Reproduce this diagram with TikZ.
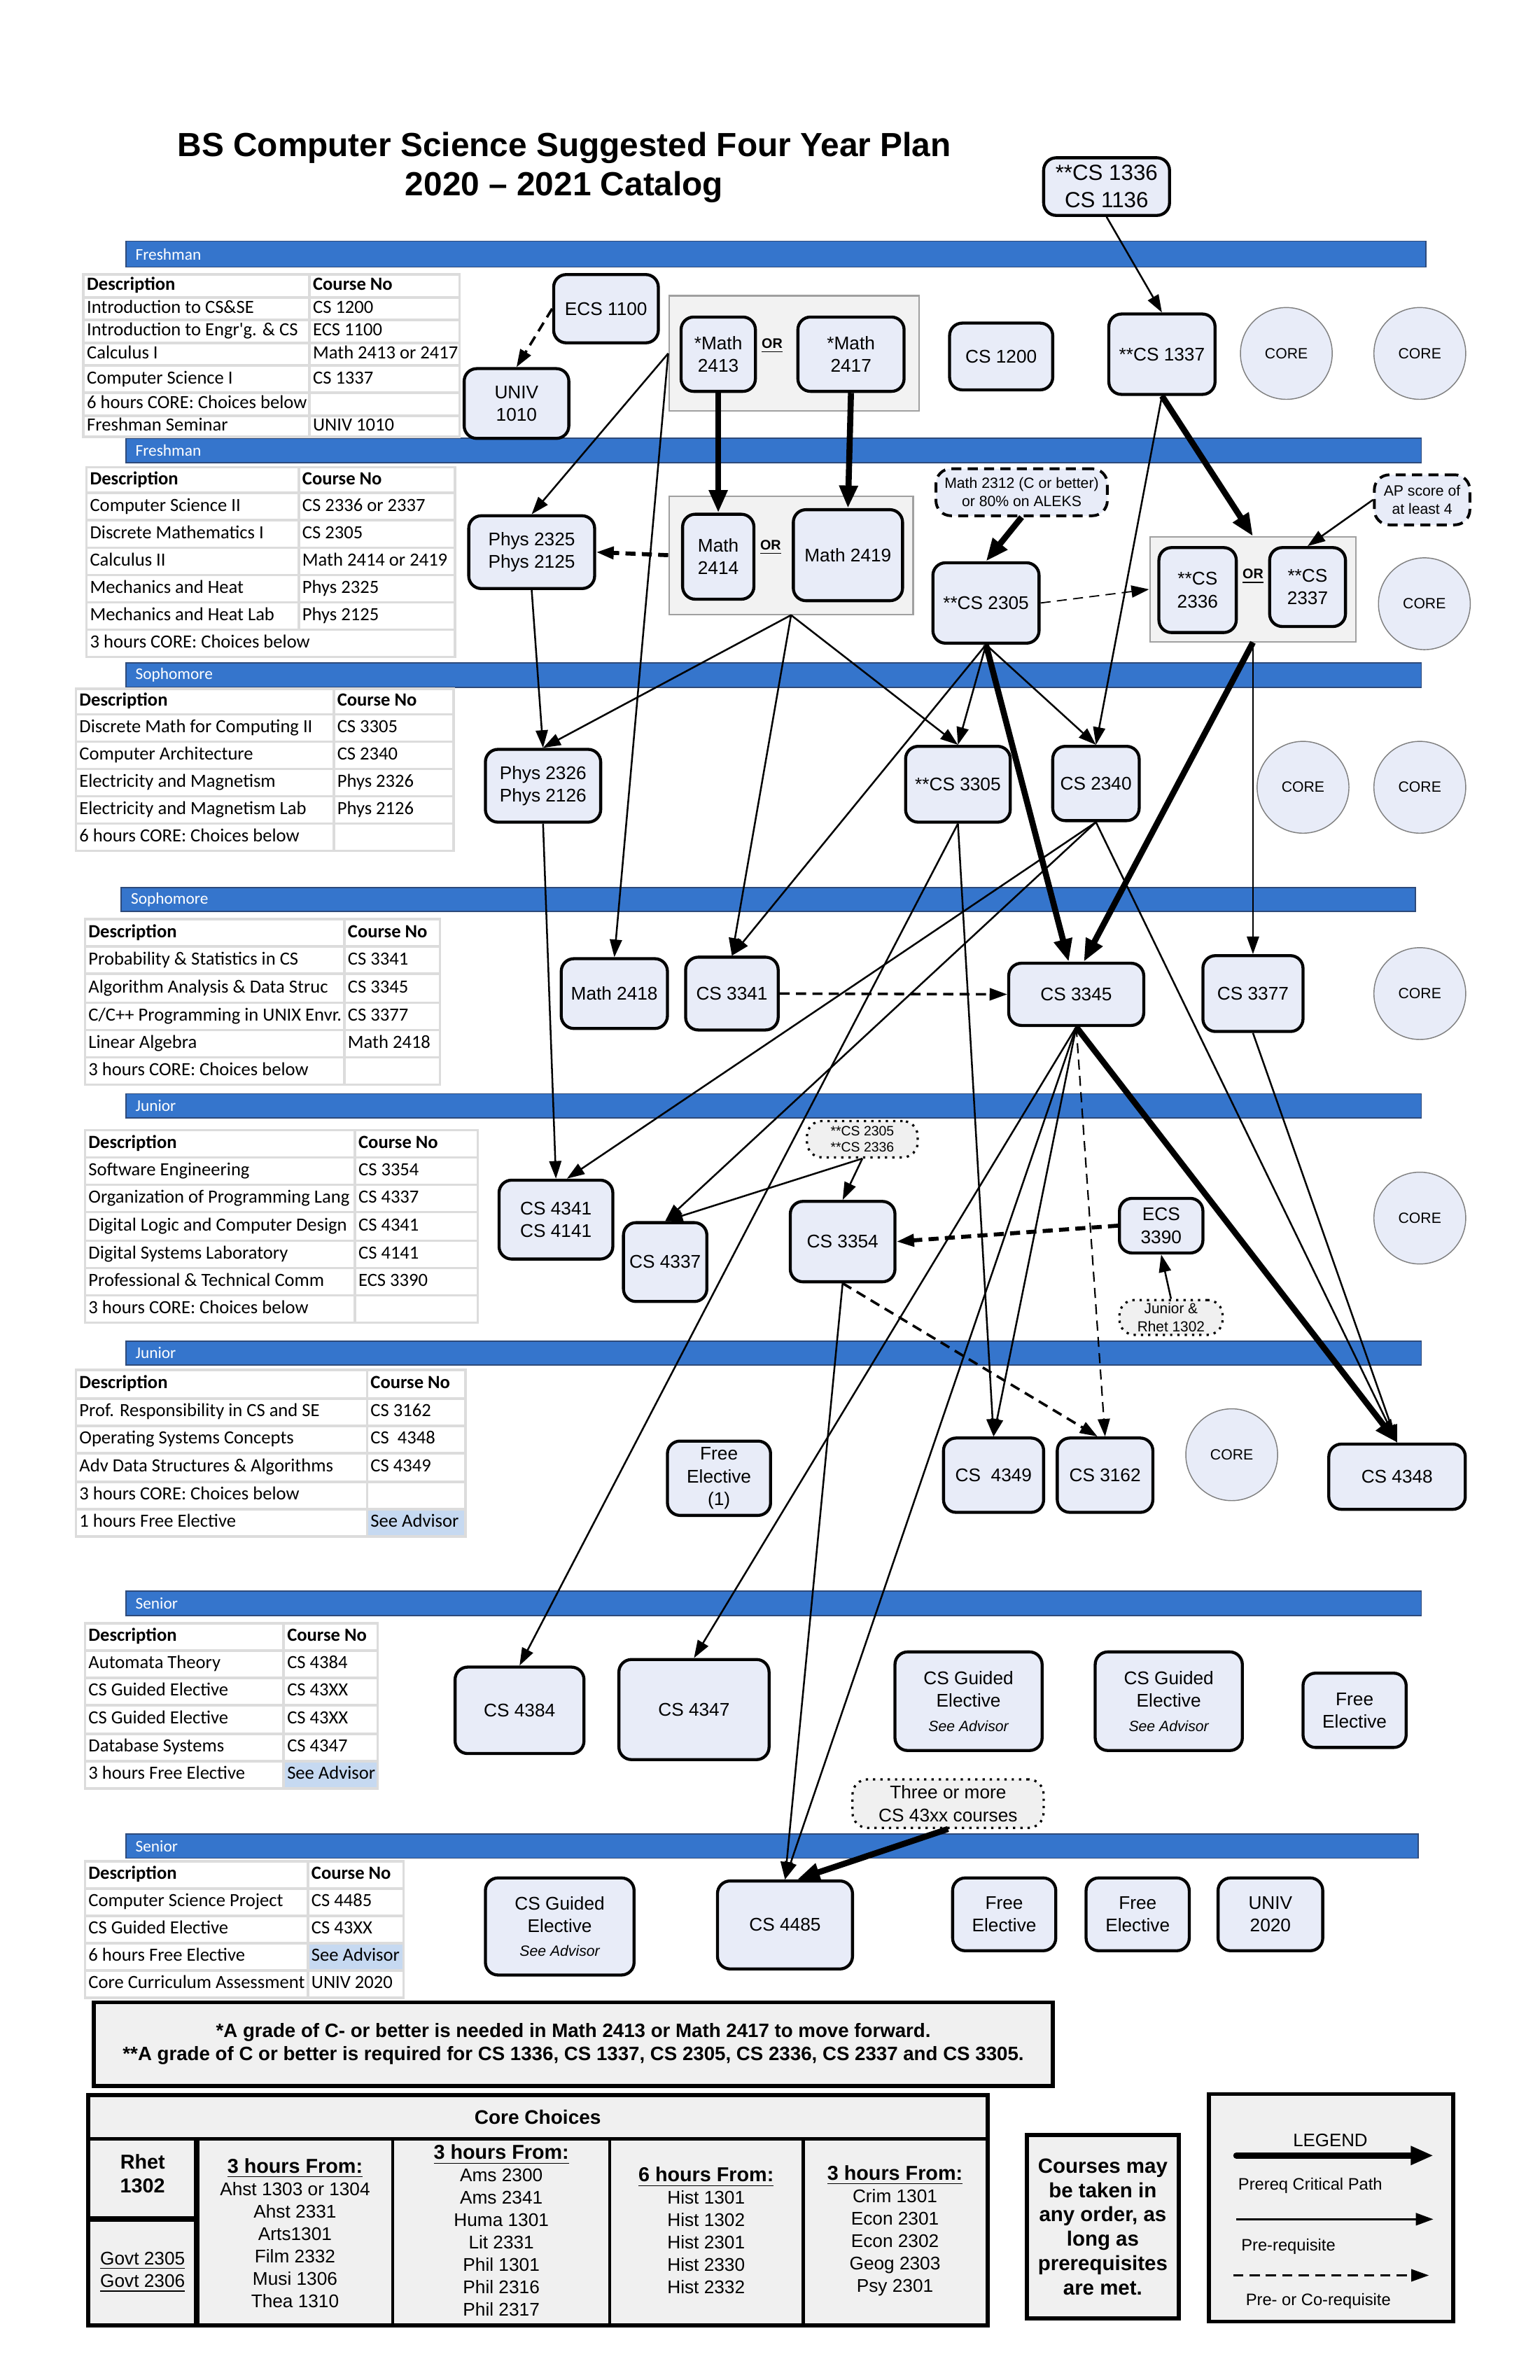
\documentclass[tikz,border=0pt]{standalone}
\usepackage{fontspec}
\setmainfont{Liberation Sans}
\newfontfamily\tabfont{Carlito}
\usetikzlibrary{arrows.meta}

\definecolor{barblue}{HTML}{3575CC}
\definecolor{barline}{HTML}{2E4A7A}
\definecolor{crsfill}{HTML}{E8ECF8}
\definecolor{grpfill}{HTML}{F2F2F2}
\definecolor{grpline}{HTML}{A0A0A0}
\definecolor{tabline}{HTML}{DCDCDC}
\definecolor{advfill}{HTML}{C6D9F1}
\definecolor{boxfill}{HTML}{F0F0F0}
\definecolor{coreline}{HTML}{7F7F7F}

\tikzset{
sz/.style 2 args={minimum width=#1*0.603pt, minimum height=#2*0.603pt},
crs/.style={draw, line width=1.2pt, rounded corners=5pt, fill=crsfill, align=center, inner sep=1pt, font=\fontsize{7.3}{9}\selectfont},
core/.style={circle, draw=coreline, line width=0.4pt, fill=crsfill, minimum size=36.5pt, inner sep=0pt, font=\fontsize{5.9}{7}\selectfont},
grp/.style={draw=grpline, line width=0.6pt, fill=grpfill, inner sep=0pt},
orlbl/.style={inner sep=0.5pt, font=\fontsize{5.5}{6}\selectfont\bfseries},
dnote/.style={draw, line width=1.1pt, dash pattern=on 4pt off 2.5pt, rounded corners=6pt, fill=crsfill, align=center, inner sep=1pt, font=\fontsize{5.9}{7.2}\selectfont},
pnote/.style={draw, line width=0.9pt, dotted, rounded corners=6pt, fill=boxfill, align=center, inner sep=1pt, font=\fontsize{5.8}{7.2}\selectfont},
yearbar/.style={draw=barline, line width=0.5pt, fill=barblue},
barlbl/.style={anchor=west, inner sep=0pt, text=white, font=\tabfont\fontsize{6.5}{7}\selectfont},
cell/.style={draw=tabline, line width=1pt},
tabtxt/.style={anchor=west, inner sep=0pt, text height=5pt, text depth=1.5pt, font=\tabfont\fontsize{7.4}{8}\selectfont},
heavybox/.style={draw, line width=1.6pt, fill=boxfill},
prq/.style={-{Triangle[length=7pt,width=4.8pt]}, line width=0.7pt},
critp/.style={-{Triangle[length=9pt,width=7pt]}, line width=2.4pt},
corq/.style={prq, dash pattern=on 4pt off 2.5pt},
}

\begin{document}
\begin{tikzpicture}[%
x=0.603pt, y=-0.603pt,
]
\fill[white] (0,0) rectangle (1015,1569);
\useasboundingbox (0,0) rectangle (1015,1569);
%% title;
\node[align=center, font=\fontsize{13.3}{15.6}\selectfont\bfseries] (title) at (372,110.5) {BS Computer Science Suggested Four Year Plan\\2020 -- 2021 Catalog};
%% year bars;
\foreach \xa/\xb/\ya/\yb/\lbl [count=\i] in {83/940/159/176/Freshman, 83/937/289/305/Freshman, 83/937/437/453/Sophomore, 80/933/585/601/Sophomore, 83/937/721/737/Junior, 83/937/884/900/Junior, 83/937/1049/1065/Senior, 83/935/1209/1225/Senior}{
  \draw[yearbar] (\xa,\ya) rectangle (\xb,\yb);
  \node[barlbl] (bar\i) at (\xa+6,{(\ya+\yb)/2}) {\lbl};
}
%% tables;
\foreach \ya/\yb/\dsc/\cno [count=\i] in {181/196/\textbf{Description}/\textbf{Course No}, 196/211/Introduction to CS\&SE/CS 1200, 211/226/Introduction to Engr'g. \& CS/ECS 1100, 226/241/Calculus I/Math 2413 or 2417, 241/259/Computer Science I/CS 1337, 259/274/6 hours CORE: Choices below/, 274/288/Freshman Seminar/UNIV 1010}{
  \draw[cell] (55,\ya) rectangle (303,\yb) (204,\ya) -- (204,\yb);
  \node[tabtxt] (t1d\i) at (57,{(\ya+\yb)/2}) {\dsc};
  \node[tabtxt] (t1c\i) at (206,{(\ya+\yb)/2}) {\cno};
}
\foreach \ya/\yb/\dsc/\cno [count=\i] in {308/325/\textbf{Description}/\textbf{Course No}, 325/343/Computer Science II/CS 2336 or 2337, 343/361/Discrete Mathematics I/CS 2305, 361/379/Calculus II/Math 2414 or 2419, 379/397/Mechanics and Heat/Phys 2325, 397/415/Mechanics and Heat Lab/Phys 2125}{
  \draw[cell] (57,\ya) rectangle (300,\yb) (197,\ya) -- (197,\yb);
  \node[tabtxt] (t2d\i) at (59,{(\ya+\yb)/2}) {\dsc};
  \node[tabtxt] (t2c\i) at (199,{(\ya+\yb)/2}) {\cno};
}
\draw[cell] (57,415) rectangle (300,433);
\node[tabtxt] (t2d7) at (59,424) {3 hours CORE: Choices below};
\foreach \ya/\yb/\dsc/\cno [count=\i] in {454/471/\textbf{Description}/\textbf{Course No}, 471/489/Discrete Math for Computing II/CS 3305, 489/507/Computer Architecture/CS 2340, 507/525/Electricity and Magnetism/Phys 2326, 525/543/Electricity and Magnetism Lab/Phys 2126, 543/561/6 hours CORE: Choices below/}{
  \draw[cell] (50,\ya) rectangle (299,\yb) (220,\ya) -- (220,\yb);
  \node[tabtxt] (t3d\i) at (52,{(\ya+\yb)/2}) {\dsc};
  \node[tabtxt] (t3c\i) at (222,{(\ya+\yb)/2}) {\cno};
}
\foreach \ya/\yb/\dsc/\cno [count=\i] in {606/624/\textbf{Description}/\textbf{Course No}, 624/642/Probability \& Statistics in CS/CS 3341, 642/661/Algorithm Analysis \& Data Struc/CS 3345, 661/679/{C/C++ Programming in UNIX Envr.}/CS 3377, 679/697/Linear Algebra/Math 2418, 697/715/3 hours CORE: Choices below/}{
  \draw[cell] (56,\ya) rectangle (290,\yb) (227,\ya) -- (227,\yb);
  \node[tabtxt] (t4d\i) at (58,{(\ya+\yb)/2}) {\dsc};
  \node[tabtxt] (t4c\i) at (229,{(\ya+\yb)/2}) {\cno};
}
\foreach \ya/\yb/\dsc/\cno [count=\i] in {745/763/\textbf{Description}/\textbf{Course No}, 763/781/Software Engineering/CS 3354, 781/799/Organization of Programming Lang/CS 4337, 799/818/Digital Logic and Computer Design/CS 4341, 818/836/Digital Systems Laboratory/CS 4141, 836/854/Professional \& Technical Comm/ECS 3390, 854/872/3 hours CORE: Choices below/}{
  \draw[cell] (56,\ya) rectangle (315,\yb) (234,\ya) -- (234,\yb);
  \node[tabtxt] (t5d\i) at (58,{(\ya+\yb)/2}) {\dsc};
  \node[tabtxt] (t5c\i) at (236,{(\ya+\yb)/2}) {\cno};
}
\fill[advfill] (242,995) rectangle (307,1013);
\foreach \ya/\yb/\dsc/\cno [count=\i] in {903/922/\textbf{Description}/\textbf{Course No}, 922/940/Prof. Responsibility in CS and SE/CS 3162, 940/958/Operating Systems Concepts/CS\ \ 4348, 958/977/Adv Data Structures \& Algorithms/CS 4349, 977/995/3 hours CORE: Choices below/, 995/1013/1 hours Free Elective/See Advisor}{
  \draw[cell] (50,\ya) rectangle (307,\yb) (242,\ya) -- (242,\yb);
  \node[tabtxt] (t6d\i) at (52,{(\ya+\yb)/2}) {\dsc};
  \node[tabtxt] (t6c\i) at (244,{(\ya+\yb)/2}) {\cno};
}
\fill[advfill] (187,1161) rectangle (249,1179);
\foreach \ya/\yb/\dsc/\cno [count=\i] in {1070/1088/\textbf{Description}/\textbf{Course No}, 1088/1106/Automata Theory/CS 4384, 1106/1124/CS Guided Elective/CS 43XX, 1124/1143/CS Guided Elective/CS 43XX, 1143/1161/Database Systems/CS 4347, 1161/1179/3 hours Free Elective/See Advisor}{
  \draw[cell] (56,\ya) rectangle (249,\yb) (187,\ya) -- (187,\yb);
  \node[tabtxt] (t7d\i) at (58,{(\ya+\yb)/2}) {\dsc};
  \node[tabtxt] (t7c\i) at (189,{(\ya+\yb)/2}) {\cno};
}
\fill[advfill] (203,1281) rectangle (266,1299);
\foreach \ya/\yb/\dsc/\cno [count=\i] in {1227/1245/\textbf{Description}/\textbf{Course No}, 1245/1263/Computer Science Project/CS 4485, 1263/1281/CS Guided Elective/CS 43XX, 1281/1299/6 hours Free Elective/See Advisor, 1299/1317/Core Curriculum Assessment/UNIV 2020}{
  \draw[cell] (56,\ya) rectangle (266,\yb) (203,\ya) -- (203,\yb);
  \node[tabtxt] (t8d\i) at (58,{(\ya+\yb)/2}) {\dsc};
  \node[tabtxt] (t8c\i) at (205,{(\ya+\yb)/2}) {\cno};
}
%% or-groups;
\node[grp, sz={165}{76}] (grpa) at (523.5,233) {};
\node[grp, sz={161}{78}] (grpb) at (521.5,366) {};
\node[grp, sz={136}{69}] (grpc) at (826,388.5) {};
%% freshman;
\node[crs, sz={83}{38}, font=\fontsize{8.7}{10.8}\selectfont] (cs1336) at (729.5,123) {**CS 1336\\CS 1136};
\node[crs, sz={69}{45}] (ecs1100) at (399.5,203.5) {ECS 1100};
\node[crs, sz={69}{46}] (univ1010) at (340.5,266) {UNIV\\1010};
\node[crs, sz={49}{49}] (m2413) at (473.5,233.5) {*Math\\2413};
\node[orlbl] (or1) at (509,228) {\underline{OR}};
\node[crs, sz={70}{49}] (m2417) at (561,233.5) {*Math\\2417};
\node[crs, sz={68}{44}] (cs1200) at (660,235) {CS 1200};
\node[crs, sz={70}{53}] (cs1337) at (766,233.5) {**CS 1337};
\node[core] (corea) at (848,233) {CORE};
\node[core] (coreb) at (936,233) {CORE};
\node[crs, sz={83}{48}] (phys2325) at (350.5,364) {Phys 2325\\Phys 2125};
\node[crs, sz={47}{56}] (m2414) at (473.5,367) {Math\\2414};
\node[orlbl] (or2) at (508,361) {\underline{OR}};
\node[crs, sz={72}{60}] (m2419) at (559,366) {Math 2419};
\node[dnote, sz={113}{31}] (n2312) at (673.5,324.5) {Math 2312 (C or better)\\or 80\% on ALEKS};
\node[crs, sz={70}{53}] (cs2305) at (650,397.5) {**CS 2305};
\node[crs, sz={51}{56}] (cs2336) at (789.5,389) {**CS\\2336};
\node[orlbl] (or3) at (826,380) {\underline{OR}};
\node[crs, sz={50}{52}] (cs2337) at (862,387) {**CS\\2337};
\node[dnote, sz={63}{33}] (nap) at (937.5,329.5) {AP score of\\at least 4};
\node[core] (corec) at (939,398) {CORE};
%% sophomore;
\node[crs, sz={76}{48}] (phys2326) at (358,518) {Phys 2326\\Phys 2126};
\node[crs, sz={69}{50}] (cs3305) at (631.5,517) {**CS 3305};
\node[crs, sz={57}{49}] (cs2340) at (722.5,516.5) {CS 2340};
\node[core] (cored) at (859,519) {CORE};
\node[core] (coree) at (936,519) {CORE};
\node[crs, sz={70}{46}] (m2418) at (405,655) {Math 2418};
\node[crs, sz={61}{48}] (cs3341) at (482.5,655) {CS 3341};
\node[crs, sz={89}{41}] (cs3345) at (709.5,655.5) {CS 3345};
\node[crs, sz={66}{50}] (cs3377) at (826,655) {CS 3377};
\node[core] (coref) at (936,655) {CORE};
%% junior;
\node[pnote, sz={73}{24}, font=\fontsize{5.4}{6.6}\selectfont] (nreq) at (568.5,751) {**CS 2305\\**CS 2336};
\node[crs, sz={75}{52}] (cs4341) at (366.5,804) {CS 4341\\CS 4141};
\node[crs, sz={55}{52}] (cs4337) at (438.5,832) {CS 4337};
\node[crs, sz={69}{53}] (cs3354) at (555.5,818.5) {CS 3354};
\node[crs, sz={55}{36}] (ecs3390) at (765.5,808) {ECS\\3390};
\node[pnote, sz={68}{23}] (njr) at (772,868.5) {Junior \&\\Rhet 1302};
\node[core] (coreg) at (936,803) {CORE};
\node[crs, sz={68}{49}] (free1) at (474,974.5) {Free\\Elective\\(1)};
\node[crs, sz={66}{49}] (cs4349) at (655,972.5) {CS\ \ 4349};
\node[crs, sz={63}{49}] (cs3162) at (728.5,972.5) {CS 3162};
\node[core] (coreh) at (812,959) {CORE};
\node[crs, sz={90}{43}] (cs4348) at (921,973.5) {CS 4348};
%% senior;
\node[crs, sz={85}{57}] (cs4384) at (342.5,1127.5) {CS 4384};
\node[crs, sz={99}{66}] (cs4347) at (457.5,1127) {CS 4347};
\node[crs, sz={97}{65}] (guid1) at (638.5,1121.5) {CS Guided\\Elective\\[0.6pt]{\fontsize{5.9}{7}\selectfont\itshape See Advisor}};
\node[crs, sz={97}{65}] (guid2) at (770.5,1121.5) {CS Guided\\Elective\\[0.6pt]{\fontsize{5.9}{7}\selectfont\itshape See Advisor}};
\node[crs, sz={68}{49}] (free2) at (893,1127.5) {Free\\Elective};
\node[pnote, sz={126}{32}, font=\fontsize{7.3}{9}\selectfont] (n43) at (625,1189) {Three or more\\CS 43xx courses};
\node[crs, sz={98}{64}] (guid3) at (369,1270) {CS Guided\\Elective\\[0.6pt]{\fontsize{5.9}{7}\selectfont\itshape See Advisor}};
\node[crs, sz={89}{58}] (cs4485) at (517.5,1269) {CS 4485};
\node[crs, sz={68}{48}] (free3) at (662,1262) {Free\\Elective};
\node[crs, sz={68}{48}] (free4) at (750,1262) {Free\\Elective};
\node[crs, sz={69}{48}] (univ2020) at (837.5,1262) {UNIV\\2020};
%% prerequisites;
\draw[corq, line width=1pt] (ecs1100.west) -- (univ1010.north);
\draw[prq] (cs1336.south) -- (cs1337.north);
\draw[prq] (grpa.west) -- (phys2325.north);
\draw[prq] (grpa.west) -- (m2418.north);
\draw[critp] (m2413.south) -- (m2414.north);
\draw[critp] (m2417.south) -- (m2419.north);
\draw[corq, line width=1.6pt] (grpb.west) -- (phys2325.east);
\draw[prq] (grpb.south) -- (phys2326.north);
\draw[prq] (grpb.south) -- (cs3341.north);
\draw[prq] (grpb.south) -- (cs3305.north);
\draw[critp] (n2312.south) -- (cs2305.north);
\draw[corq, line width=0.5pt] (cs2305.east) -- (grpc.west);
\draw[critp] (cs1337.south) -- (grpc.north);
\draw[prq] (cs1337.south) -- (cs2340.north);
\draw[prq] (nap.west) -- (cs2337.north);
\draw[prq] (cs2305.south) -- (cs3341.north);
\draw[prq] (cs2305.south) -- (cs3305.north);
\draw[prq] (cs2305.south) -- (cs2340.north);
\draw[critp] (cs2305.south) -- ([xshift=-3pt]cs3345.north);
\draw[critp] (grpc.south) -- ([xshift=3pt]cs3345.north);
\draw[prq] (grpc.south) -- (cs3377.north);
\draw[prq] (phys2325.south) -- (phys2326.north);
\draw[prq] (phys2326.south) -- (cs4341.north);
\draw[prq] (cs2340.south) -- (cs4341.75);
\draw[prq] (cs2340.south) -- (cs4337.north);
\draw[prq] (cs2340.south) -- (cs4348.north);
\draw[prq] (cs3305.south) -- (cs4349.north);
\draw[prq] (cs3305.south) -- (cs4384.north);
\draw[corq, line width=1pt] (cs3341.east) -- (cs3345.west);
\draw[prq] (nreq.south) -- (cs4337.north);
\draw[prq] (nreq.south) -- (cs3354.north);
\draw[corq, line width=1.6pt] (ecs3390.west) -- (cs3354.east);
\draw[prq] (njr.north) -- (ecs3390.south);
\draw[prq] (cs3345.south) -- (cs4347.north);
\draw[prq] (cs3345.south) -- (cs4485.north);
\draw[prq] (cs3345.south) -- (cs4349.north);
\draw[corq, line width=0.6pt] (cs3345.south) -- (cs3162.north);
\draw[critp] (cs3345.south) -- (cs4348.north);
\draw[prq] (cs3377.south) -- (cs4348.north);
\draw[prq] (cs3354.south) -- (cs4485.north);
\draw[corq, line width=1pt] (cs3354.south) -- ([xshift=-3pt]cs3162.north);
\draw[critp] (n43.south) -- (cs4485.75);
%% grade notes;
\node[heavybox, sz={632}{55}, align=center, font=\fontsize{7.7}{9}\selectfont\bfseries] (gradenote) at (378,1347.5) {*A grade of C- or better is needed in Math 2413 or Math 2417 to move forward.\\**A grade of C or better is required for CS 1336, CS 1337, CS 2305, CS 2336, CS 2337 and CS 3305.};
%% core choices;
\draw[heavybox] (58,1381) rectangle (651,1533);
\draw[line width=1.6pt] (58,1410) -- (651,1410);
\draw[line width=2.2pt] (58,1463) -- (129.5,1463);
\draw[line width=2.2pt] (129.5,1410) -- (129.5,1533);
\draw[line width=1.2pt] (259,1410) -- (259,1533) (402,1410) -- (402,1533) (529.5,1410) -- (529.5,1533);
\node[font=\fontsize{7.8}{9}\selectfont\bfseries] (corehd) at (354.5,1395.5) {Core Choices};
\node[align=center, font=\fontsize{8}{9.6}\selectfont\bfseries] (rhet) at (94,1433) {Rhet\\1302};
\node[align=center, font=\fontsize{7.3}{9}\selectfont] (govt) at (94,1498) {\underline{Govt 2305}\\\underline{Govt 2306}};
\node[align=center, font=\fontsize{7.3}{8.9}\selectfont] (colb) at (194.5,1472) {{\fontsize{8}{8.9}\selectfont\bfseries\underline{3 hours From:}}\\Ahst 1303 or 1304\\Ahst 2331\\Arts1301\\Film 2332\\Musi 1306\\Thea 1310};
\node[align=center, font=\fontsize{7.3}{8.9}\selectfont] (colc) at (330.5,1470.5) {{\fontsize{8}{8.9}\selectfont\bfseries\underline{3 hours From:}}\\Ams 2300\\Ams 2341\\Huma 1301\\Lit 2331\\Phil 1301\\Phil 2316\\Phil 2317};
\node[align=center, font=\fontsize{7.3}{8.9}\selectfont] (cold) at (465.5,1470.5) {{\fontsize{8}{8.9}\selectfont\bfseries\underline{6 hours From:}}\\Hist 1301\\Hist 1302\\Hist 2301\\Hist 2330\\Hist 2332};
\node[align=center, font=\fontsize{7.3}{8.9}\selectfont] (cole) at (590,1470.5) {{\fontsize{8}{8.9}\selectfont\bfseries\underline{3 hours From:}}\\Crim 1301\\Econ 2301\\Econ 2302\\Geog 2303\\Psy 2301};
%% any order;
\node[heavybox, sz={100}{121}, align=center, font=\fontsize{8.2}{9.7}\selectfont\bfseries] (anyorder) at (727,1468) {Courses may\\be taken in\\any order, as\\long as\\prerequisites\\are met.};
%% legend;
\node[heavybox, sz={161}{150}] (legend) at (877.5,1455.5) {};
\node[font=\fontsize{7.2}{8}\selectfont] (lgtitle) at (877,1411) {LEGEND};
\coordinate (lga) at (815,1421);
\coordinate (lgb) at (945,1421);
\coordinate (lgc) at (815,1463);
\coordinate (lgd) at (945,1463);
\coordinate (lge) at (813,1500);
\coordinate (lgf) at (942,1500);
\draw[critp, line cap=round] (lga) -- (lgb);
\draw[prq, line width=1pt] (lgc) -- (lgd);
\draw[corq, line width=0.8pt] (lge) -- (lgf);
\node[anchor=west, inner sep=0pt, font=\fontsize{6.6}{8}\selectfont] (lgcrit) at (816,1441) {Prereq Critical Path};
\node[anchor=west, inner sep=0pt, font=\fontsize{6.6}{8}\selectfont] (lgpre) at (818,1481) {Pre-requisite};
\node[anchor=west, inner sep=0pt, font=\fontsize{6.6}{8}\selectfont] (lgco) at (821,1517) {Pre- or Co-requisite};
\end{tikzpicture}
\end{document}
